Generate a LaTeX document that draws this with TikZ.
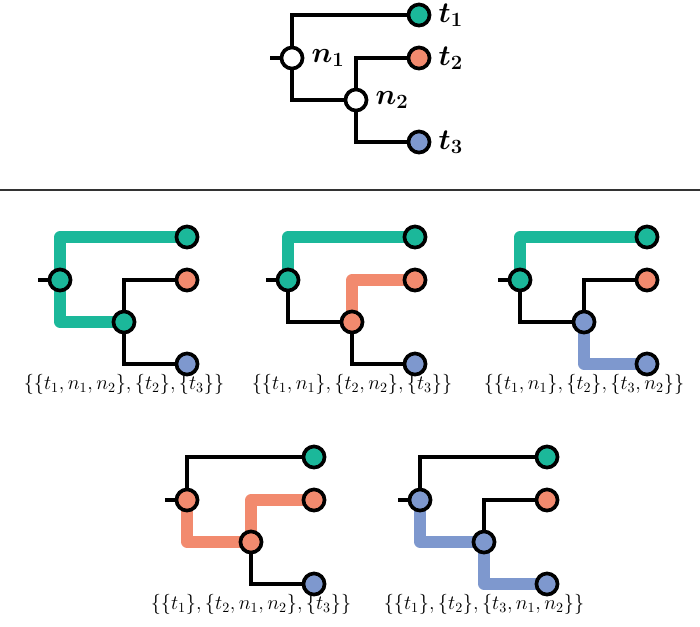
\documentclass[tikz,border=0pt]{standalone}
\usetikzlibrary{positioning,backgrounds}

\definecolor{tealleaf}{RGB}{27,184,154}
\definecolor{orangeleaf}{RGB}{242,138,110}
\definecolor{blueleaf}{RGB}{126,152,206}

\tikzset{
  vert/.style={draw, circle, line width=2.6pt, minimum size=15pt, inner sep=0pt},
  edge/.style={line width=2.6pt},
  part/.style={line width=8pt, line join=round},
}

% one small tree: name, place of n1, fill of n1, fill of n2, partition
\newcommand{\cuttree}[5]{%
  \begin{scope}[shift={#2}]
    \coordinate (#1-r) at (-22,0);
    \node[vert, fill=#3] (#1-n1) at (0,0) {};
    \node[vert, fill=#4] (#1-n2) at (64,42) {};
    \node[vert, fill=tealleaf] (#1-t1) at (127,-43) {};
    \node[vert, fill=orangeleaf] (#1-t2) at (127,0) {};
    \node[vert, fill=blueleaf] (#1-t3) at (127,84) {};
    \node[font=\Large] (#1-lab) at (64,104) {$#5$};
  \end{scope}
  \begin{scope}[on background layer]
    \draw[edge] (#1-r) -- (#1-n1.center);
    \draw[edge] (#1-t1.center) -| (#1-n1.center) |- (#1-n2.center);
    \draw[edge] (#1-t2.center) -| (#1-n2.center) |- (#1-t3.center);
  \end{scope}
}

\begin{document}
\begin{tikzpicture}[x=0.025cm, y=-0.025cm]
  \useasboundingbox (0,0) rectangle (700,627);

  % the tree itself
  \begin{scope}[shift={(292,58)}]
    \coordinate (r) at (-22,0);
    \node[vert, fill=white] (n1) at (0,0) {};
    \node[vert, fill=white] (n2) at (64,42) {};
    \node[vert, fill=tealleaf] (t1) at (127,-43) {};
    \node[vert, fill=orangeleaf] (t2) at (127,0) {};
    \node[vert, fill=blueleaf] (t3) at (127,84) {};
  \end{scope}
  \begin{scope}[font=\huge\boldmath, inner sep=0pt]
    \node[right=5pt of n1] (ln1) {$n_1$};
    \node[right=5pt of n2] (ln2) {$n_2$};
    \node[right=5pt of t1] (lt1) {$t_1$};
    \node[right=5pt of t2] (lt2) {$t_2$};
    \node[right=5pt of t3] (lt3) {$t_3$};
  \end{scope}
  \begin{scope}[on background layer]
    \draw[edge] (r) -- (n1.center);
    \draw[edge] (t1.center) -| (n1.center) |- (n2.center);
    \draw[edge] (t2.center) -| (n2.center) |- (t3.center);
  \end{scope}

  \coordinate (sepl) at (0,190);
  \coordinate (sepr) at (700,190);
  \draw[line width=1pt, black!80] (sepl) -- (sepr);

  % the five partitions
  \cuttree{a}{(60,280)}{tealleaf}{tealleaf}{\{\{t_1,n_1,n_2\},\{t_2\},\{t_3\}\}}
  \cuttree{b}{(288,280)}{tealleaf}{orangeleaf}{\{\{t_1,n_1\},\{t_2,n_2\},\{t_3\}\}}
  \cuttree{c}{(520,280)}{tealleaf}{blueleaf}{\{\{t_1,n_1\},\{t_2\},\{t_3,n_2\}\}}
  \cuttree{d}{(187,500)}{orangeleaf}{orangeleaf}{\{\{t_1\},\{t_2,n_1,n_2\},\{t_3\}\}}
  \cuttree{e}{(420,500)}{blueleaf}{blueleaf}{\{\{t_1\},\{t_2\},\{t_3,n_1,n_2\}\}}

  \begin{scope}[on background layer]
    \draw[part, tealleaf] (a-t1.center) -| (a-n1.center) |- (a-n2.center);
    \draw[part, tealleaf] (b-t1.center) -| (b-n1.center);
    \draw[part, orangeleaf] (b-t2.center) -| (b-n2.center);
    \draw[part, tealleaf] (c-t1.center) -| (c-n1.center);
    \draw[part, blueleaf] (c-n2.center) |- (c-t3.center);
    \draw[part, orangeleaf] (d-t2.center) -| (d-n2.center) -| (d-n1.center);
    \draw[part, blueleaf] (e-t3.center) -| (e-n2.center) -| (e-n1.center);
  \end{scope}
\end{tikzpicture}
\end{document}
